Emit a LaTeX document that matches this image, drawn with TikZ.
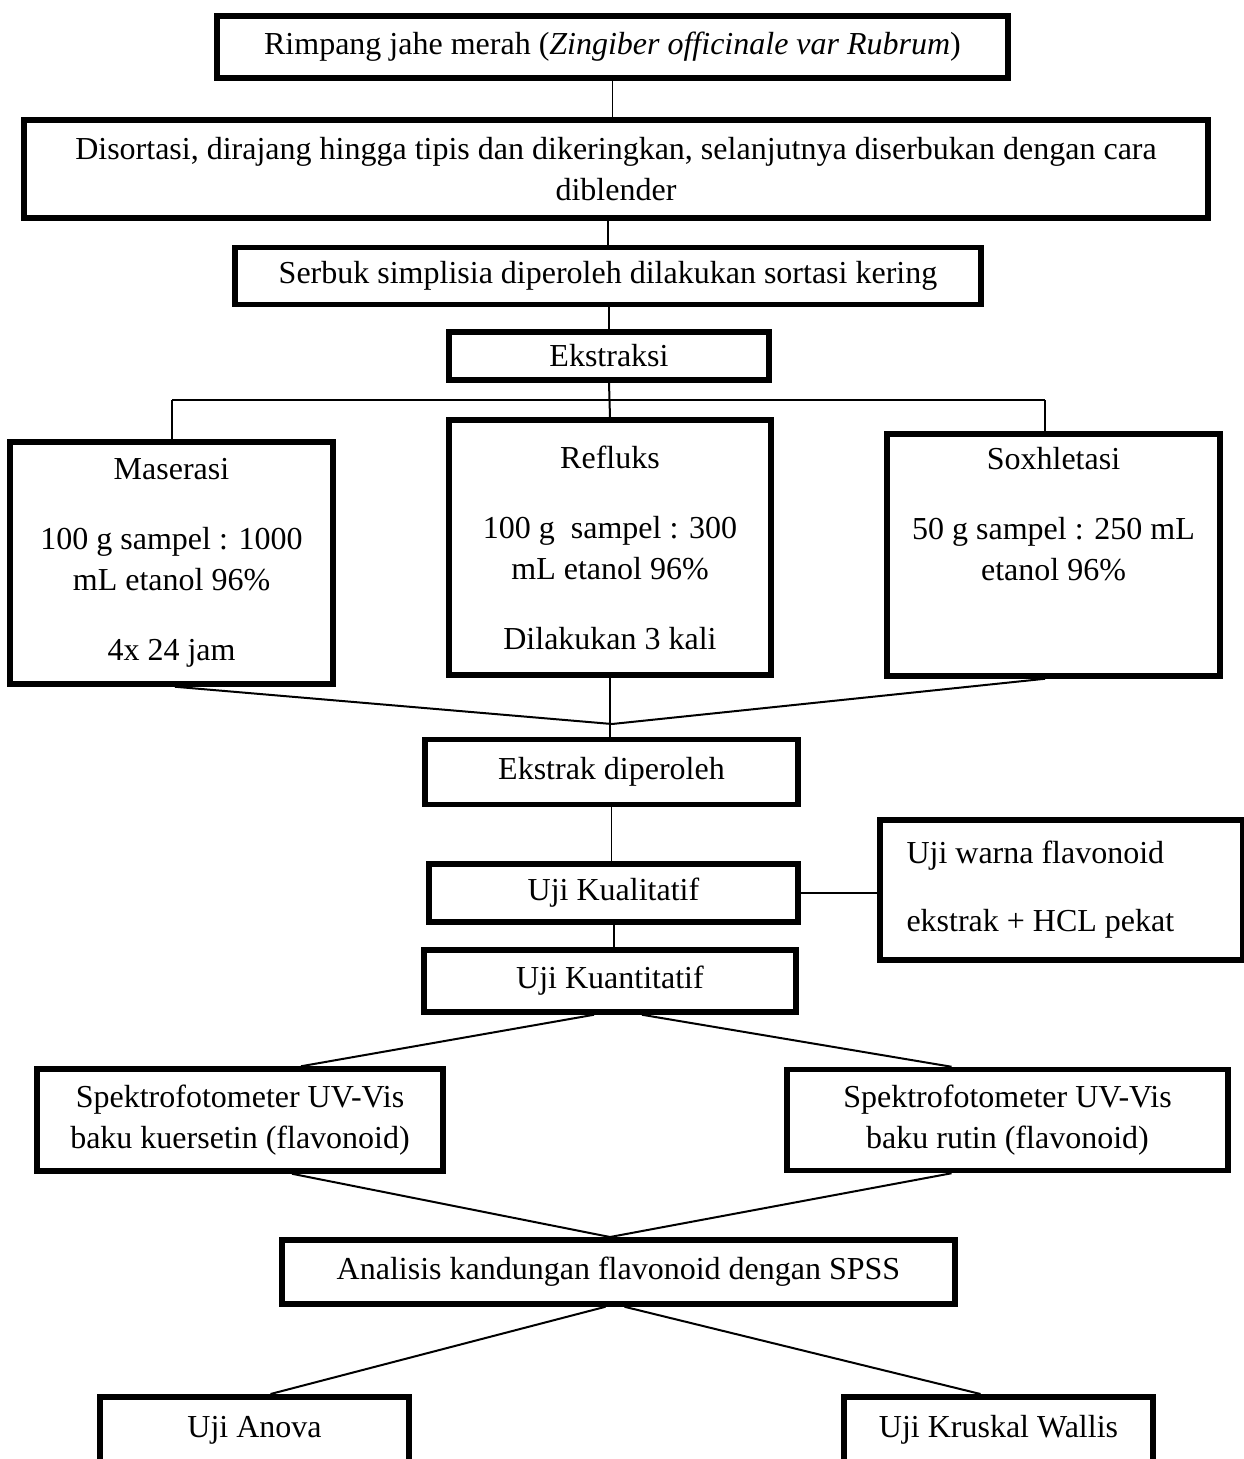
\documentclass[tikz,border=0pt]{standalone}
\usepackage{fontspec}
\setmainfont{Liberation Serif}
\begin{document}
\begin{tikzpicture}[x=1pt,y=-1pt,
  box/.style={draw, line width=5.5pt, rectangle, inner sep=0pt, align=center,
    font=\fontsize{32}{41}\selectfont},
  conn/.style={line width=1.6pt},
  diag/.style={line width=2pt}]
\clip (0,0) rectangle (1244,1459);
\fill[white] (0,0) rectangle (1244,1459);

% boxes
\node[box, minimum width=791pt, minimum height=62pt] (rimpang) at (612.5,47)
  {Rimpang jahe merah (\textit{Zingiber officinale var Rubrum})};
\node[box, minimum width=1184pt, minimum height=98pt] (disortasi) at (616,169)
  {Disortasi, dirajang hingga tipis dan dikeringkan, selanjutnya diserbukan dengan cara\\diblender};
\node[box, minimum width=746pt, minimum height=57pt] (serbuk) at (608,276)
  {Serbuk simplisia diperoleh dilakukan sortasi kering};
\node[box, minimum width=320pt, minimum height=48pt] (ekstraksi) at (609,356)
  {Ekstraksi};
\node[box, minimum width=323pt, minimum height=242pt] (maserasi) at (171.5,563)
  {Maserasi\\[29pt]100 g sampel : 1000\\mL etanol 96\%\\[29pt]4x 24 jam};
\node[box, minimum width=322pt, minimum height=255pt] (refluks) at (610,547.5)
  {Refluks\\[29pt]100 g\ \ sampel : 300\\mL etanol 96\%\\[29pt]Dilakukan 3 kali};
\node[box, minimum width=333pt, minimum height=242pt] (soxhletasi) at (1053.5,555)
  {Soxhletasi\\[29pt]50 g sampel : 250 mL\\etanol 96\%\\[29pt]\strut};
\node[box, minimum width=373pt, minimum height=65pt] (ekstrak) at (611.5,772)
  {Ekstrak diperoleh};
\node[box, minimum width=369pt, minimum height=58pt] (kualitatif) at (613.5,893)
  {Uji Kualitatif};
\node[box, minimum width=363pt, minimum height=140pt, text width=310pt, align=flush left] (warna) at (1061.5,890)
  {Uji warna flavonoid\\[27pt]ekstrak + HCL pekat};
\node[box, minimum width=372pt, minimum height=62pt] (kuantitatif) at (610,981)
  {Uji Kuantitatif};
\node[box, minimum width=406pt, minimum height=102pt] (spekL) at (240,1120)
  {Spektrofotometer UV-Vis\\baku kuersetin (flavonoid)};
\node[box, minimum width=441pt, minimum height=101pt] (spekR) at (1007.5,1120)
  {Spektrofotometer UV-Vis\\baku rutin (flavonoid)};
\node[box, minimum width=673pt, minimum height=64pt] (analisis) at (618.5,1272)
  {Analisis kandungan flavonoid dengan SPSS};
\node[box, anchor=north, minimum width=309pt, text height=32pt, text depth=100pt, inner ysep=9pt] (anova) at (254.5,1394)
  {Uji Anova};
\node[box, anchor=north, minimum width=309pt, text height=32pt, text depth=100pt, inner ysep=9pt] (kruskal) at (998.5,1394)
  {Uji Kruskal Wallis};

% connector points
\coordinate (busL) at (172,400);
\coordinate (busR) at (1045,400);
\coordinate (m1) at (612,724);
\coordinate (m2) at (610,1237);

% connectors
\draw[conn] (rimpang.south) -- (rimpang.south |- disortasi.north);
\draw[conn] (serbuk.north) -- (serbuk.north |- disortasi.south);
\draw[conn] (ekstraksi.north) -- (ekstraksi.north |- serbuk.south);
\draw[diag] (ekstraksi.south) -- (refluks.north);
\draw[diag] (busL) -- (busR);
\draw[conn] (busL) -- (busL |- maserasi.north);
\draw[conn] (busR) -- (busR |- soxhletasi.north);
\draw[diag] ([xshift=3.5pt]maserasi.south) -- (m1);
\draw[diag] ([xshift=-8.5pt]soxhletasi.south) -- (m1);
\draw[conn] (refluks.south) -- (refluks.south |- ekstrak.north);
\draw[conn] (ekstrak.south) -- (ekstrak.south |- kualitatif.north);
\draw[diag] (kualitatif.east) -- (kualitatif.east -| warna.west);
\draw[diag] (kualitatif.south) -- (kualitatif.south |- kuantitatif.north);
\draw[diag] ([xshift=-16pt]kuantitatif.south) -- ([xshift=61pt]spekL.north);
\draw[diag] ([xshift=32pt]kuantitatif.south) -- ([xshift=-56pt]spekR.north);
\draw[diag] ([xshift=52pt]spekL.south) -- (m2);
\draw[diag] ([xshift=-56pt]spekR.south) -- (m2);
\draw[diag] ([xshift=-13pt]analisis.south) -- ([xshift=16pt]anova.north);
\draw[diag] ([xshift=6pt]analisis.south) -- ([xshift=-18pt]kruskal.north);
\end{tikzpicture}
\end{document}
